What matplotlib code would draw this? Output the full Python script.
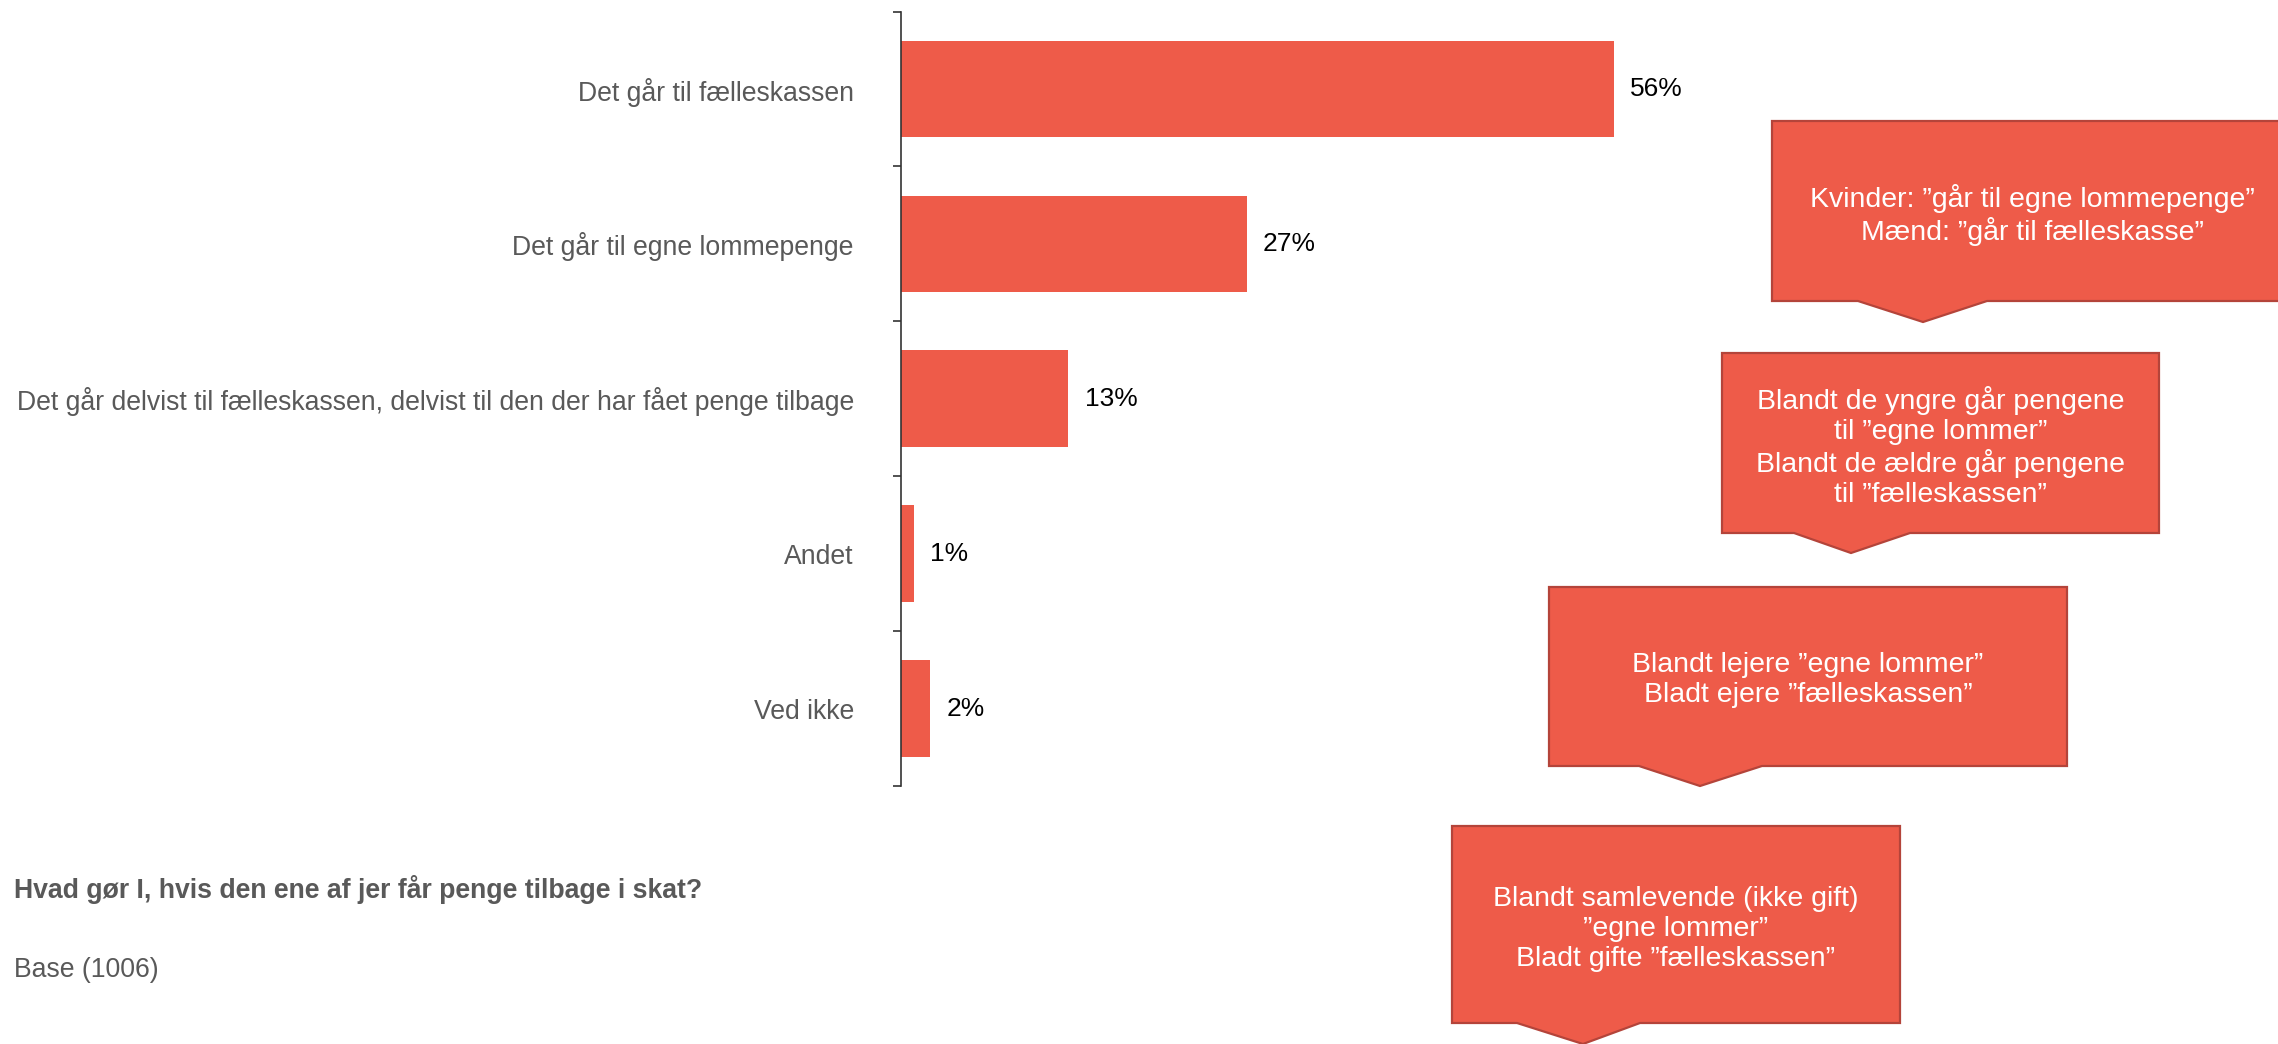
import matplotlib.pyplot as plt
from matplotlib.patches import Polygon
from matplotlib.ticker import FixedLocator

plt.rcParams['font.family'] = ['Liberation Sans', 'DejaVu Sans']

# data
categories = [
    'Det går til fælleskassen',
    'Det går til egne lommepenge',
    'Det går delvist til fælleskassen, delvist til den der har fået penge tilbage',
    'Andet',
    'Ved ikke',
]
values = [55.9, 27.1, 13.1, 1.0, 2.3]
question = 'Hvad gør I, hvis den ene af jer får penge tilbage i skat?'
base_text = 'Base (1006)'

callout_texts = [
    'Kvinder: \u201dgår til egne lommepenge\u201d\nMænd: \u201dgår til fælleskasse\u201d',
    'Blandt de yngre går pengene\ntil \u201degne lommer\u201d\nBlandt de ældre går pengene\ntil \u201dfælleskassen\u201d',
    'Blandt lejere \u201degne lommer\u201d\nBladt ejere \u201dfælleskassen\u201d',
    'Blandt samlevende (ikke gift)\n\u201degne lommer\u201d\nBladt gifte \u201dfælleskassen\u201d',
]

bar_color = '#EE5B49'
box_edge = '#B4443A'
label_gray = '#595959'

W, H = 2278, 1044
fig = plt.figure(figsize=(W / 100, H / 100), dpi=100)

# main bar axes, placed in pixels
ax_left, ax_right, ax_top, ax_bottom = 901, 1701, 11.6, 786
ax = fig.add_axes([ax_left / W, 1 - ax_bottom / H,
                   (ax_right - ax_left) / W, (ax_bottom - ax_top) / H])
n = len(categories)
y = list(range(n))
ax.barh(y, values, height=0.625, color=bar_color)
ax.set_ylim(n - 0.5, -0.5)
ax.set_xlim(0, (ax_right - ax_left) / 12.75)

for yi, v in zip(y, values):
    ax.text(v + 1.3, yi, f'{v:.0f}%', va='center', ha='left',
            fontsize=19, color='black')

ax.set_yticks(y)
ax.set_yticklabels(categories, fontsize=19.2, color=label_gray)
ax.tick_params(axis='y', which='major', length=0, pad=34)
ax.yaxis.set_minor_locator(FixedLocator([i - 0.5 for i in range(n + 1)]))
ax.tick_params(axis='y', which='minor', length=6, width=1.2, color='#333333')
ax.set_xticks([])
for s in ['top', 'right', 'bottom']:
    ax.spines[s].set_visible(False)
ax.spines['left'].set_color('#333333')
ax.spines['left'].set_linewidth(1.2)

fig.text(14 / W, 1 - 889 / H, question, fontsize=19.2, fontweight='bold',
         color=label_gray, va='center', ha='left')
fig.text(14 / W, 1 - 970 / H, base_text, fontsize=19.2,
         color=label_gray, va='center', ha='left')

# overlay in pixel coords for the callout boxes
ov = fig.add_axes([0, 0, 1, 1])
ov.set_xlim(0, W)
ov.set_ylim(H, 0)
ov.axis('off')

# (x0, x1, y0, y1, base_left, base_right, tip_x, tip_y)
boxes = [
    (1772, 2292, 121, 301, 1858, 1987, 1923, 322),
    (1722, 2159, 353, 533, 1794, 1910, 1851, 553),
    (1549, 2067, 587, 766, 1639, 1762, 1700, 786),
    (1452, 1900, 826, 1023, 1517, 1640, 1583, 1044),
]
for (x0, x1, y0, y1, b0, b1, tx, ty), txt in zip(boxes, callout_texts):
    pts = [(x0, y0), (x1, y0), (x1, y1), (b1, y1), (tx, ty), (b0, y1), (x0, y1)]
    ov.add_patch(Polygon(pts, closed=True, facecolor=bar_color,
                         edgecolor=box_edge, linewidth=1.6, clip_on=False))
    ov.text((x0 + x1) / 2, (y0 + y1) / 2 + 4, txt, ha='center', va='center',
            fontsize=20.5, color='white', linespacing=1.2)

fig.savefig('out.png', dpi=100)
